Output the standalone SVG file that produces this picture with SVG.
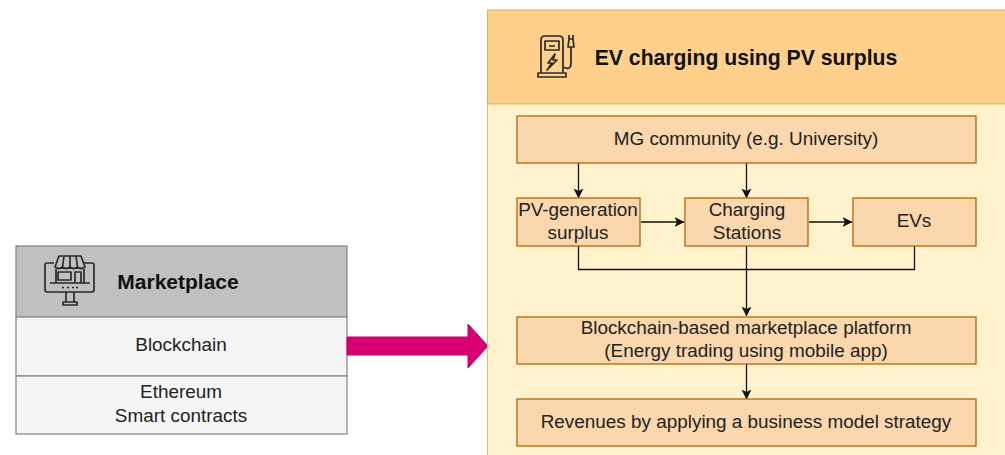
<svg xmlns="http://www.w3.org/2000/svg" width="1005" height="455" viewBox="0 0 1005 455">
<style>
text{font-family:"Liberation Sans",Arial,sans-serif;text-anchor:middle;fill:#222;font-size:18.900px}
.b{font-weight:bold;fill:#111}
.n{fill:#fad7ac;stroke:#b46504;stroke-width:1.3}
.c{fill:none;stroke:#111;stroke-width:1.3}
.i{fill:none;stroke:#2a2a2a;stroke-width:1.7;stroke-linejoin:round}
.g{stroke:#8a8a8a;stroke-width:1.3}
</style>
<defs><marker id="a" markerWidth="11" markerHeight="11" refX="9.500" refY="5" orient="auto" markerUnits="userSpaceOnUse"><path d="M0 0L10 5L0 10L2.500 5Z" fill="#111"/></marker></defs>
<rect width="1005" height="455" fill="#fff"/>
<g id="marketplace">
<rect class="g" x="16" y="246" width="331" height="71" fill="#c0c0c0"/>
<rect class="g" x="16" y="317" width="331" height="59" fill="#f5f5f5"/>
<rect class="g" x="16" y="376" width="331" height="58" fill="#f5f5f5"/>
<text class="b" x="178" y="289" style="font-size:21px">Marketplace</text>
<text x="181" y="351">Blockchain</text>
<text x="181" y="398">Ethereum</text>
<text x="181" y="422">Smart contracts</text>
<g class="i">
<path d="M54 263H47Q45 263 45 265V289Q45 292 47 292H92Q94 292 94 289V265Q94 263 92 263H84"/>
<path d="M50 283H90M56 283V269M84 269V283M58 272H71V280H58ZM75 272H81V283H75Z"/>
<path d="M55 267L59 256H81L85 267Q81 270 77.500 267Q74 270 70 267Q66 270 62.500 267Q59 270 55 267Z"/>
<path d="M64 256L62.500 267M70 256V267M76 256L77.500 267"/>
<path d="M66 292V302M74 292V302M63 302H77V305H63Z"/>
<path d="M62 287.500H64M67 287.500H69M72 287.500H74M76 287.500H78"/>
</g>
</g>
<path id="big-arrow" d="M347 337H468V324L488 346L468 368V355H347Z" fill="#d80073" stroke="#c2006a" stroke-width="1"/>
<g id="ev-panel">
<rect x="487.500" y="10" width="530" height="94" fill="#ffcf8c" stroke="#e0b060"/>
<rect x="487.500" y="104" width="530" height="360" fill="#fff2cc" stroke="#e0c070"/>
<text class="b" x="746" y="65" style="font-size:21.200px">EV charging using PV surplus</text>
<g class="i">
<path d="M541 73V40Q541 36 545 36H559Q563 36 563 40V73M538 73H566V77H538Z"/>
<path d="M545 41H559V50H545ZM549 46H555"/>
<path d="M555 54L548 63H552L547 70L557 60H553Z"/>
<path d="M563 67Q571 71 571 63V47M568 47H574L573 39H569ZM569 39V35M573 39V35"/>
</g>
</g>
<g id="connectors" class="c">
<path marker-end="url(#a)" d="M578.500 163V198"/>
<path marker-end="url(#a)" d="M746.500 163V198"/>
<path marker-end="url(#a)" d="M641 222H684"/>
<path marker-end="url(#a)" d="M809 222H852"/>
<path d="M578.500 246V269.500H914.500V246"/>
<path marker-end="url(#a)" d="M746.500 246V316"/>
<path marker-end="url(#a)" d="M746.500 364V399"/>
</g>
<g id="mg"><rect class="n" x="517" y="116" width="459" height="47"/><text x="746" y="145">MG community (e.g. University)</text></g>
<g id="pv"><rect class="n" x="517" y="198" width="123" height="48"/><text x="578" y="216">PV-generation</text><text x="578" y="239">surplus</text></g>
<g id="stations"><rect class="n" x="685" y="198" width="123" height="48"/><text x="747" y="216">Charging</text><text x="747" y="239">Stations</text></g>
<g id="evs"><rect class="n" x="853" y="198" width="123" height="48"/><text x="914" y="227">EVs</text></g>
<g id="platform"><rect class="n" x="517" y="317" width="459" height="47"/><text x="746" y="334">Blockchain-based marketplace platform</text><text x="746" y="357">(Energy trading using mobile app)</text></g>
<g id="revenues"><rect class="n" x="517" y="399" width="459" height="47"/><text x="746" y="428">Revenues by applying a business model strategy</text></g>
</svg>
